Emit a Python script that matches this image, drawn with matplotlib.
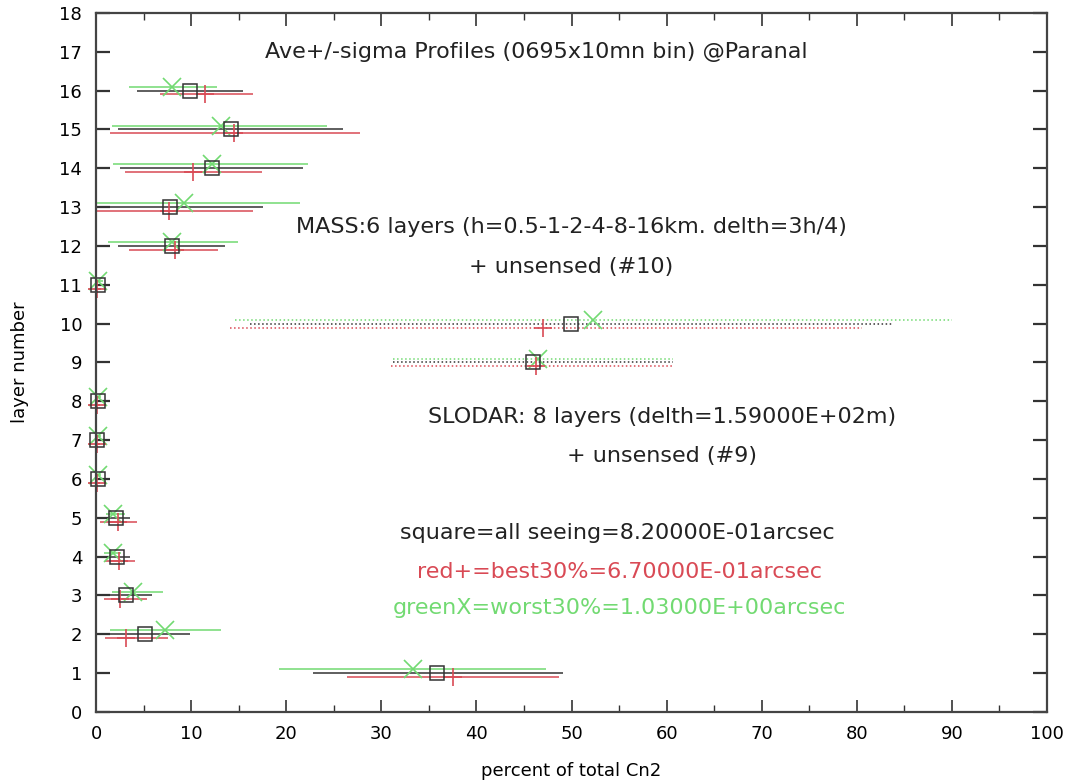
import numpy as np
import matplotlib.pyplot as plt
from matplotlib.ticker import MultipleLocator

# layer numbers 1..16
layers = np.arange(1, 17)

# all data (black squares): mean, lower, upper
all_mean = [35.9, 5.1, 3.2, 2.2, 2.1, 0.2, 0.1, 0.2, 45.9, 49.9, 0.2, 8.0, 7.8, 12.2, 14.2, 9.9]
all_lo = [22.8, 0.8, 0.4, 0.8, 0.9, 0.0, 0.0, 0.0, 31.2, 16.2, 0.0, 2.3, -1.0, 2.5, 2.3, 4.3]
all_hi = [49.1, 9.9, 5.9, 3.6, 3.6, 0.6, 0.6, 0.6, 60.7, 83.7, 0.8, 13.6, 17.6, 21.8, 26.0, 15.5]

# best 30% (red +)
best_mean = [37.5, 3.2, 2.5, 2.4, 2.3, 0.1, 0.1, 0.1, 46.3, 47.0, 0.1, 8.3, 7.7, 10.2, 14.5, 11.5]
best_lo = [26.4, 0.9, 0.8, 0.9, 0.4, 0.0, 0.0, 0.0, 31.0, 14.1, 0.0, 3.5, -1.0, 3.1, 1.5, 6.7]
best_hi = [48.7, 7.6, 5.4, 4.1, 4.3, 0.4, 0.4, 0.4, 60.7, 80.5, 0.5, 12.8, 16.5, 17.5, 27.8, 16.5]

# worst 30% (green X)
worst_mean = [33.3, 7.3, 3.9, 1.8, 1.8, 0.2, 0.2, 0.2, 46.5, 52.3, 0.2, 8.0, 9.2, 12.2, 13.1, 8.0]
worst_lo = [19.2, 1.5, 1.7, 0.8, 1.1, 0.0, 0.0, 0.0, 31.2, 14.6, 0.0, 1.3, -1.0, 1.8, 1.7, 3.5]
worst_hi = [47.3, 13.1, 7.0, 2.6, 3.0, 0.5, 0.5, 0.5, 60.7, 90.0, 0.7, 14.9, 21.5, 22.3, 24.3, 12.7]

unsensed = [9, 10]  # drawn dotted

c_all = "#333333"
c_best = "#d94a55"
c_worst = "#72da72"

plt.rcParams["font.family"] = "DejaVu Sans"

fig = plt.figure(figsize=(10.74, 7.82), dpi=100)
ax = fig.add_axes([0.0894, 0.0895, 0.8855, 0.894])

styles = [":" if l in unsensed else "-" for l in layers]

dy = 0.1
ax.hlines(layers, all_lo, all_hi, colors=c_all, linestyles=styles, linewidth=1.1)
ax.hlines(layers - dy, best_lo, best_hi, colors=c_best, linestyles=styles, linewidth=1.1)
ax.hlines(layers + dy, worst_lo, worst_hi, colors=c_worst, linestyles=styles, linewidth=1.1)

ax.plot(worst_mean, layers + dy, "x", color=c_worst, ms=13, mew=1.2, clip_on=False)
ax.plot(best_mean, layers - dy, "+", color=c_best, ms=13, mew=1.2, clip_on=False)
ax.plot(all_mean, layers, "s", mfc="none", mec=c_all, ms=10.5, mew=1.1, clip_on=False)

ax.set_xlim(0, 100)
ax.set_ylim(0, 18)
ax.xaxis.set_major_locator(MultipleLocator(10))
ax.xaxis.set_minor_locator(MultipleLocator(5))
ax.yaxis.set_major_locator(MultipleLocator(1))
ax.tick_params(which="both", direction="in", top=True, right=True, color="#333333")
ax.tick_params(axis="x", which="major", length=9, width=1.2, labelsize=13, pad=9)
ax.tick_params(axis="x", which="minor", length=5, width=1.0)
ax.tick_params(axis="y", which="major", length=10, width=1.6, labelsize=13, pad=10)
for s in ax.spines.values():
    s.set_linewidth(1.6)
    s.set_color("#444444")

ax.set_xlabel("percent of total Cn2", fontsize=13, labelpad=14)
ax.set_ylabel("layer number", fontsize=13, labelpad=22)

fs = 16
ax.text(46.3, 17.0, "Ave+/-sigma Profiles (0695x10mn bin) @Paranal", fontsize=fs,
        ha="center", va="center", color="#222222")
ax.text(50.0, 12.5, "MASS:6 layers (h=0.5-1-2-4-8-16km. delth=3h/4)", fontsize=fs,
        ha="center", va="center", color="#222222")
ax.text(50.0, 11.45, "+ unsensed (#10)", fontsize=fs, ha="center", va="center", color="#222222")
ax.text(59.5, 7.6, "SLODAR: 8 layers (delth=1.59000E+02m)", fontsize=fs,
        ha="center", va="center", color="#222222")
ax.text(59.5, 6.6, "+ unsensed (#9)", fontsize=fs, ha="center", va="center", color="#222222")
ax.text(54.8, 4.6, "square=all seeing=8.20000E-01arcsec", fontsize=fs,
        ha="center", va="center", color="#222222")
ax.text(55.0, 3.6, "red+=best30%=6.70000E-01arcsec", fontsize=fs,
        ha="center", va="center", color=c_best)
ax.text(55.0, 2.67, "greenX=worst30%=1.03000E+00arcsec", fontsize=fs,
        ha="center", va="center", color=c_worst)

fig.savefig("out.png", dpi=100)
